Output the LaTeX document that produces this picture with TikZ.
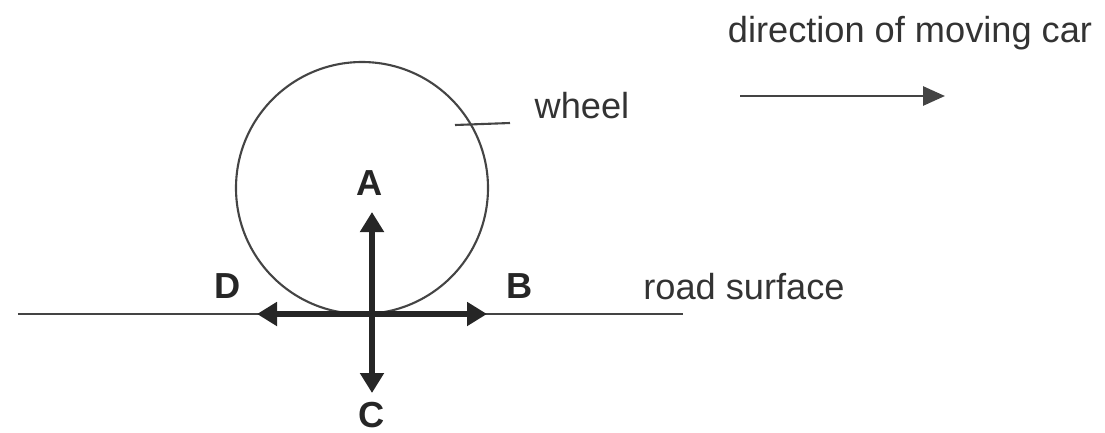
\documentclass[tikz,border=0pt]{standalone}
\usepackage{fontspec}
\setmainfont{Liberation Sans}
\usepackage{xcolor}
\usetikzlibrary{positioning, arrows.meta, calc}

\definecolor{inkgray}{HTML}{333333}
\definecolor{linegray}{HTML}{444444}

\tikzset{
    lbl/.style={anchor=base, inner sep=0pt, text=inkgray, font=\fontsize{10.3}{12}\selectfont},
    letter/.style={lbl, font=\fontsize{10.3}{12}\selectfont\bfseries, text=black!85},
    force/.style={line width=1.6pt, draw=black!85, -{Triangle[length=2mm, width=2.3mm]}},
    thin/.style={line width=0.6pt, draw=linegray}
}

\begin{document}
\begin{tikzpicture}
    \useasboundingbox (0,0) rectangle (11.05,4.32);

    % Road and wheel
    \coordinate (contact) at (3.72,1.18);
    \coordinate (roadL) at (0.18,1.18);
    \coordinate (roadR) at (6.83,1.18);
    \draw[thin] (roadL) -- (roadR);
    \draw[thin] (3.62,2.44) circle (1.26);

    % Forces at the contact point
    \coordinate (tipA) at (3.72,2.20);
    \coordinate (tipB) at (4.87,1.18);
    \coordinate (tipC) at (3.72,0.39);
    \coordinate (tipD) at (2.57,1.18);
    \draw[force] (contact) -- (tipA);
    \draw[force] (contact) -- (tipB);
    \draw[force] (contact) -- (tipC);
    \draw[force] (contact) -- (tipD);

    % Letters
    \node[letter] (A) at (3.70,2.37) {A};
    \node[letter] (B) at (5.20,1.34) {B};
    \node[letter] (C) at (3.72,0.05) {C};
    \node[letter] (D) at (2.28,1.34) {D};

    % Labels
    \node[lbl] (road) at (7.44,1.33) {road surface};
    \node[lbl] (wheel) at (5.82,3.14) {wheel};
    \coordinate (rim) at (4.55,3.07);
    \coordinate (tag) at (5.10,3.09);
    \draw[thin] (rim) -- (tag);

    % Direction of motion
    \node[lbl] (dir) at (9.10,3.90) {direction of moving car};
    \coordinate (go) at (7.40,3.36);
    \coordinate (stop) at (9.45,3.36);
    \draw[thin, line width=0.8pt, -{Triangle[length=2.2mm, width=1.9mm]}] (go) -- (stop);
\end{tikzpicture}
\end{document}
